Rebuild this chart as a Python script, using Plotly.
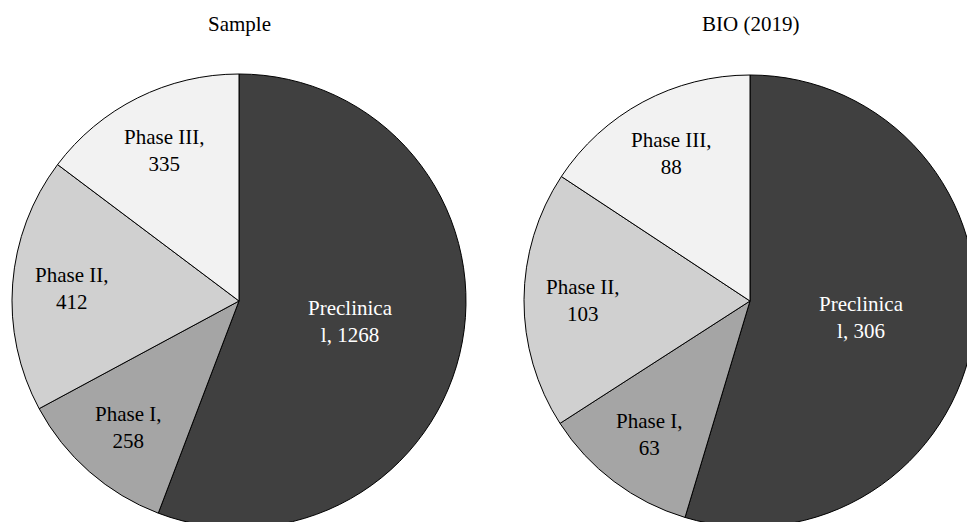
import math
import textwrap
import plotly.graph_objects as go

# Pipeline stage counts
categories = ["Preclinical", "Phase I", "Phase II", "Phase III"]
sample_counts = [1268, 258, 412, 335]
bio_counts = [306, 63, 103, 88]
panel_titles = ["Sample", "BIO (2019)"]

# Styling
slice_colors = ["#404040", "#a5a5a5", "#d0d0d0", "#f2f2f2"]
label_colors = ["white", "black", "black", "black"]
label_radius = [0.5, 0.74, 0.74, 0.74]   # label distance from centre, as fraction of radius
FONT = "Liberation Serif, Times New Roman, serif"
FS = 21

W, H = 980, 530
# pie centre (px from top-left) and radius for each panel
geoms = [(239, 301, 227), (750, 301, 226)]


def wrap_label(cat, val):
    return "<br>".join(textwrap.wrap(f"{cat}, {val}", 10))


fig = go.Figure()
annotations = []
for (cx, cy, r), counts, title in zip(geoms, [sample_counts, bio_counts], panel_titles):
    fig.add_trace(go.Pie(
        labels=categories,
        values=counts,
        sort=False,
        direction="clockwise",
        rotation=0,
        marker=dict(colors=slice_colors, line=dict(color="black", width=1)),
        textinfo="none",
        hoverinfo="label+value",
        showlegend=False,
        domain=dict(x=[(cx - r) / W, (cx + r) / W],
                    y=[1 - (cy + r) / H, 1 - (cy - r) / H]),
    ))
    total = sum(counts)
    cum = 0
    for cat, val, col, frac in zip(categories, counts, label_colors, label_radius):
        mid = (cum + val / 2) / total * 2 * math.pi
        cum += val
        px = cx + frac * r * math.sin(mid)
        py = cy - frac * r * math.cos(mid)
        annotations.append(dict(
            x=px / W, y=1 - py / H, xref="paper", yref="paper",
            text=wrap_label(cat, val), showarrow=False,
            xanchor="center", yanchor="middle",
            font=dict(family=FONT, size=FS, color=col),
        ))
    annotations.append(dict(
        x=cx / W, y=1 - 24 / H, xref="paper", yref="paper",
        text=title, showarrow=False, xanchor="center", yanchor="middle",
        font=dict(family=FONT, size=FS, color="black"),
    ))

fig.update_layout(
    width=W, height=H,
    margin=dict(l=0, r=0, t=0, b=0),
    paper_bgcolor="white", plot_bgcolor="white",
    annotations=annotations,
)

fig.write_html(
    "out.html",
    post_script="document.documentElement.style.overflow='hidden';"
                "document.body.style.overflow='hidden';document.body.style.margin='0';",
)
